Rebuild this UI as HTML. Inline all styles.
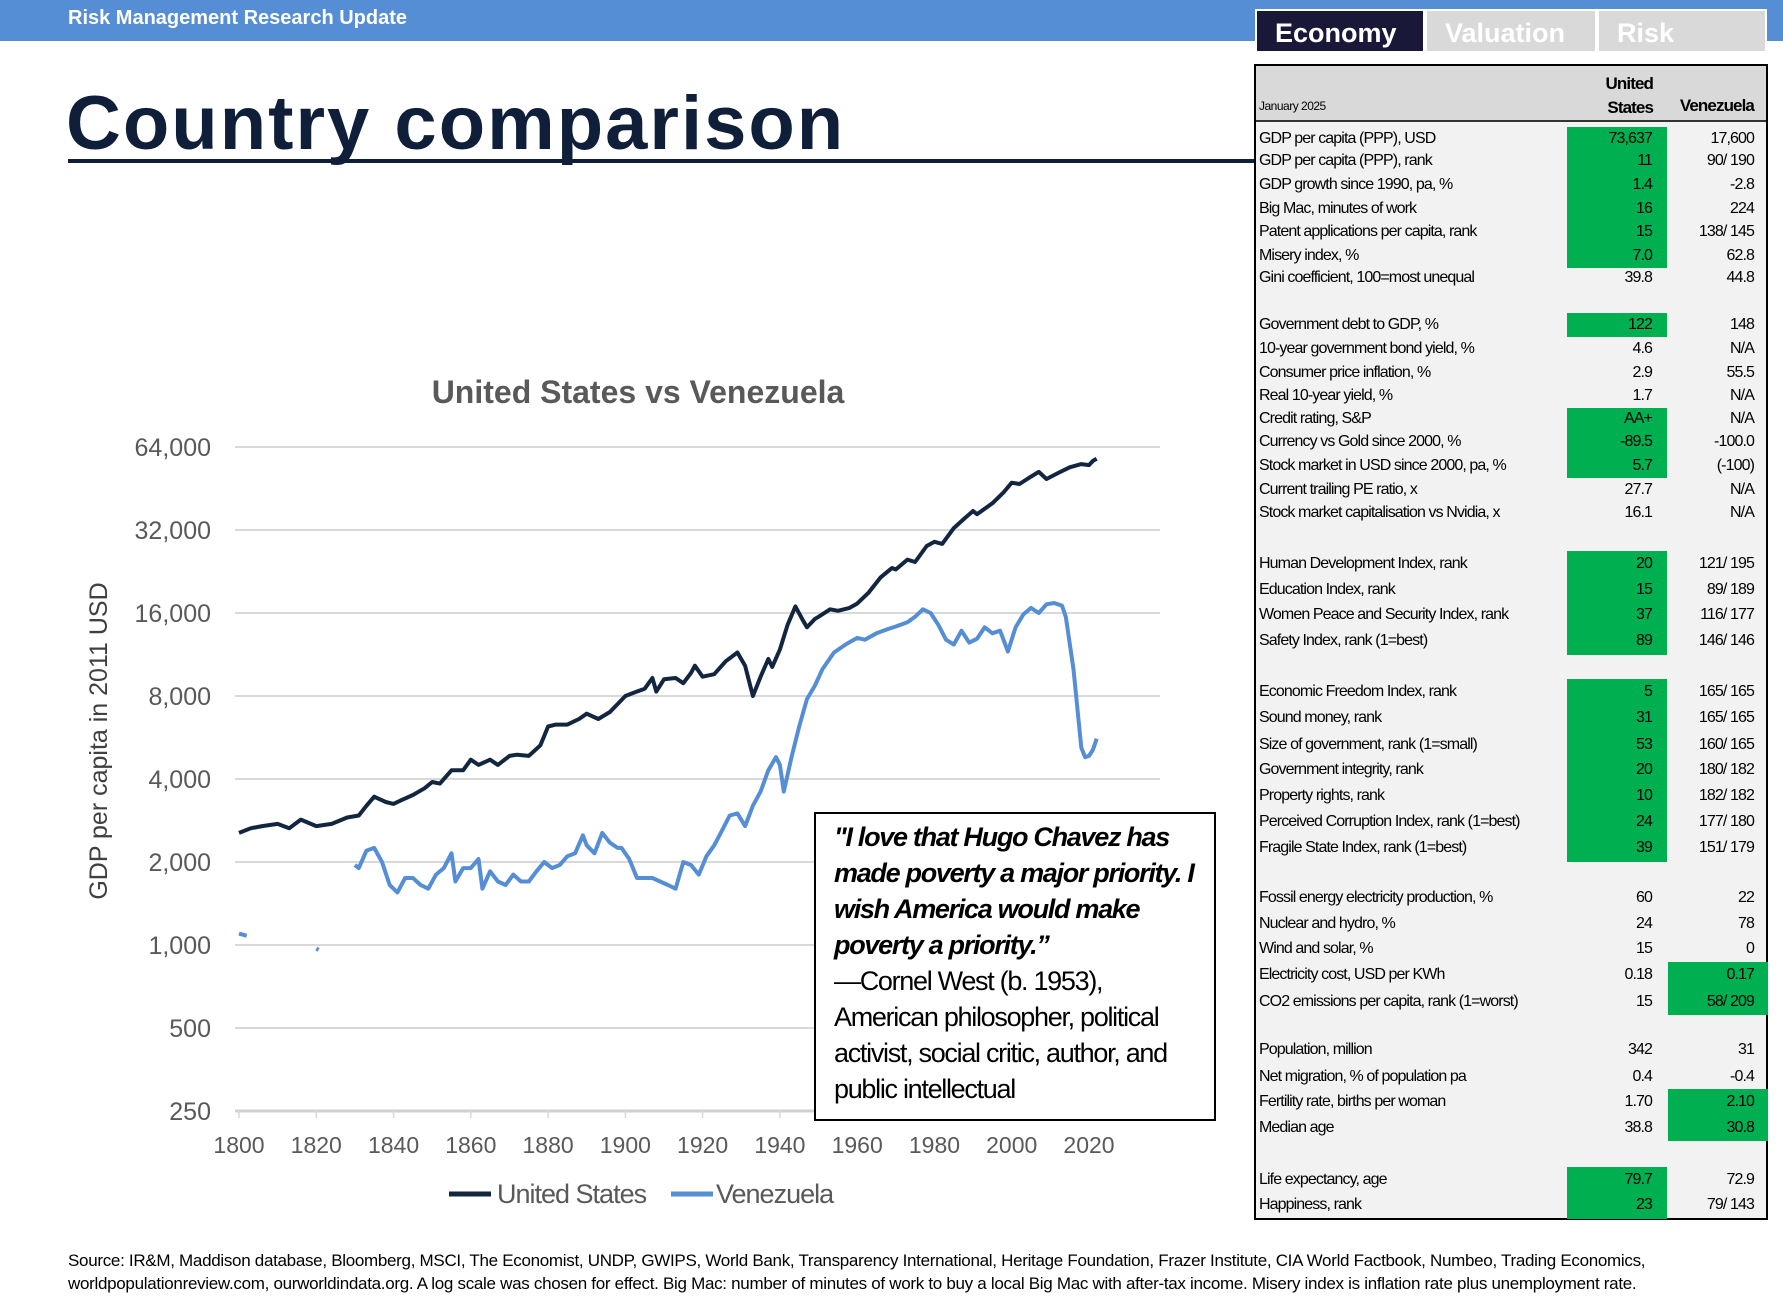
<!DOCTYPE html>
<html><head><meta charset="utf-8">
<style>
body{margin:0;width:1783px;height:1302px;background:#fff;position:relative;overflow:hidden;font-family:"Liberation Sans",sans-serif;}
.abs{position:absolute;}
#hdr{left:0;top:0;width:1783px;height:41px;background:#558ED5;}
#hdrt{left:68px;top:7px;color:#fff;font-weight:bold;font-size:20px;}
.tab{top:9px;height:44px;line-height:44px;font-weight:bold;font-size:27px;color:#fff;padding-left:18px;box-sizing:border-box;border:2px solid #fff;}
#title{left:66px;top:80px;font-size:76px;font-weight:bold;color:#0f1f3a;letter-spacing:2px;}
#uline{left:68px;top:159px;width:1186px;height:4px;background:#0f1f3a;}
#tbl{left:1254px;top:64px;width:514px;height:1156px;background:#f2f2f2;border:2px solid #000;box-sizing:border-box;}
#thead{left:0;top:0;width:510px;height:54px;background:#d9d9d9;border-bottom:2px solid #333;}
.cell{position:absolute;font-size:16px;letter-spacing:-0.9px;color:#000;white-space:nowrap;}
.quote{left:814px;top:812px;width:402px;height:309px;border:2px solid #000;box-sizing:border-box;background:#fff;}
.ql{position:absolute;left:18px;font-size:27px;letter-spacing:-1.3px;color:#000;white-space:nowrap;}
#foot{left:68px;top:1249px;font-size:17px;line-height:23px;color:#000;letter-spacing:-0.3px;}
</style></head><body>
<div class="abs" id="hdr"></div>
<div class="abs" id="hdrt">Risk Management Research Update</div>
<div class="abs tab" style="left:1255px;width:170px;background:#1a1838;">Economy</div>
<div class="abs tab" style="left:1425px;width:172px;background:#d9d9d9;">Valuation</div>
<div class="abs tab" style="left:1597px;width:170px;background:#d9d9d9;">Risk</div>
<div class="abs" id="title">Country comparison</div>
<div class="abs" id="uline"></div>

<div class="abs" id="tbl">
 <div class="abs" id="thead">
  <div class="cell" style="left:3px;top:33px;font-size:12px;letter-spacing:-0.5px;">January 2025</div>
  <div class="cell" style="right:113px;top:6px;font-size:17px;font-weight:bold;text-align:right;line-height:24px;">United<br>States</div>
  <div class="cell" style="right:12px;top:30px;font-size:17px;font-weight:bold;">Venezuela</div>
 </div>
 <div id="rows"></div>
</div>

<svg class="abs" style="left:0;top:0;" width="1783" height="1302" id="chart"></svg>

<div class="abs quote">
 <div class="ql" style="top:8px;font-weight:bold;font-style:italic;">"I love that Hugo Chavez has</div>
 <div class="ql" style="top:44px;font-weight:bold;font-style:italic;">made poverty a major priority. I</div>
 <div class="ql" style="top:80px;font-weight:bold;font-style:italic;">wish America would make</div>
 <div class="ql" style="top:116px;font-weight:bold;font-style:italic;">poverty a priority.”</div>
 <div class="ql" style="top:152px;">—Cornel West (b. 1953),</div>
 <div class="ql" style="top:188px;">American philosopher, political</div>
 <div class="ql" style="top:224px;">activist, social critic, author, and</div>
 <div class="ql" style="top:260px;">public intellectual</div>
</div>

<div class="abs" id="foot">Source: IR&amp;M, Maddison database, Bloomberg, MSCI, The Economist, UNDP, GWIPS, World Bank, Transparency International, Heritage Foundation, Frazer Institute, CIA World Factbook, Numbeo, Trading Economics,<br>worldpopulationreview.com, ourworldindata.org. A log scale was chosen for effect. Big Mac: number of minutes of work to buy a local Big Mac with after-tax income. Misery index is inflation rate plus unemployment rate.</div>

<script>
// ---- table data ----
const rowLabels=["GDP per capita (PPP), USD","GDP per capita (PPP), rank","GDP growth since 1990, pa, %","Big Mac, minutes of work","Patent applications per capita, rank","Misery index, %","Gini coefficient, 100=most unequal",
"Government debt to GDP, %","10-year government bond yield, %","Consumer price inflation, %","Real 10-year yield, %","Credit rating, S&P","Currency vs Gold since  2000, %","Stock market in USD since 2000, pa, %","Current trailing PE ratio, x","Stock market capitalisation vs Nvidia, x",
"Human Development Index, rank","Education Index, rank","Women Peace and Security Index, rank","Safety Index, rank (1=best)",
"Economic Freedom Index, rank","Sound money, rank","Size of government, rank (1=small)","Government integrity, rank","Property rights, rank","Perceived Corruption Index, rank (1=best)","Fragile State Index, rank (1=best)",
"Fossil energy electricity production, %","Nuclear and hydro, %","Wind and solar, %","Electricity cost, USD per KWh","CO2 emissions per capita, rank (1=worst)",
"Population, million","Net migration, %  of population pa","Fertility rate, births per woman","Median age",
"Life expectancy, age","Happiness, rank"];
const usValues=["73,637","11","1.4","16","15","7.0","39.8","122","4.6","2.9","1.7","AA+","-89.5","5.7","27.7","16.1","20","15","37","89","5","31","53","20","10","24","39","60","24","15","0.18","15","342","0.4","1.70","38.8","79.7","23"];
const veValues=["17,600","90/ 190","-2.8","224","138/ 145","62.8","44.8","148","N/A","55.5","N/A","N/A","-100.0","(-100)","N/A","N/A","121/ 195","89/ 189","116/ 177","146/ 146","165/ 165","165/ 165","160/ 165","180/ 182","182/ 182","177/ 180","151/ 179","22","78","0","0.17","58/ 209","31","-0.4","2.10","30.8","72.9","79/ 143"];
const usGreen=[1,1,1,1,1,1,0,1,0,0,0,1,1,1,0,0,1,1,1,1,1,1,1,1,1,1,1,0,0,0,0,0,0,0,0,0,1,1];
const veGreen=[0,0,0,0,0,0,0,0,0,0,0,0,0,0,0,0,0,0,0,0,0,0,0,0,0,0,0,0,0,0,1,1,0,0,1,1,0,0];
const rowCentersDisp=[121,141,162,183,203,224,244,285,306,327,347,368,388,409,430,450,495,518,540,563,608,631,654,676,699,722,745,789,812,834,857,880,923,946,968,991,1037,1059];
const rows=document.getElementById('rows');
for(let i=0;i<rowLabels.length;i++){
  const cy=rowCentersDisp[i]*1.137-64+1;
  const h=(i>=16)?26:23.5;
  if(usGreen[i]){const g=document.createElement('div');g.className='abs';g.style.cssText=`left:311px;top:${cy-h/2-2}px;width:100px;height:${h+0.5}px;background:#00b050;`;
    
    rows.appendChild(g);}
  if(veGreen[i]){const g=document.createElement('div');g.className='abs';g.style.cssText=`left:412px;top:${cy-h/2-2}px;width:100px;height:${h+0.5}px;background:#00b050;`;
    
    rows.appendChild(g);}
  const l=document.createElement('div');l.className='cell';l.style.left='3px';l.style.top=(cy-11)+'px';l.textContent=rowLabels[i];
  
  rows.appendChild(l);
  const u=document.createElement('div');u.className='cell';u.style.right='114px';u.style.top=(cy-11)+'px';u.textContent=usValues[i];
  
  rows.appendChild(u);
  const v=document.createElement('div');v.className='cell';v.style.right='12px';v.style.top=(cy-11)+'px';v.textContent=veValues[i];
  
  rows.appendChild(v);
}

// ---- chart data ----
const yTicks=[64000,32000,16000,8000,4000,2000,1000,500,250];
const yTickLabels=["64,000","32,000","16,000","8,000","4,000","2,000","1,000","500","250"];
const xTicks=[1800,1820,1840,1860,1880,1900,1920,1940,1960,1980,2000,2020];
const usYears=[1800,1803,1806,1810,1813,1816,1820,1824,1828,1831,1833,1835,1838,1840,1842,1845,1848,1850,1852,1855,1858,1860,1862,1865,1867,1870,1872,1875,1878,1880,1882,1885,1888,1890,1893,1896,1900,1902,1905,1907,1908,1910,1913,1915,1917,1918,1920,1923,1926,1929,1931,1933,1935,1937,1938,1940,1942,1944,1946,1947,1949,1950,1953,1955,1958,1960,1963,1966,1969,1970,1973,1975,1978,1980,1982,1985,1988,1990,1991,1995,1998,2000,2002,2005,2007,2009,2012,2015,2018,2020,2021,2022];
const usValuesChart=[2550,2650,2700,2750,2650,2850,2700,2750,2900,2950,3200,3450,3300,3250,3350,3500,3700,3900,3850,4300,4300,4700,4500,4700,4500,4850,4900,4850,5300,6200,6300,6300,6600,6900,6600,7000,8000,8200,8500,9300,8300,9200,9300,8900,9700,10300,9400,9600,10700,11500,10300,8000,9400,10900,10200,11800,14500,16900,15000,14200,15200,15500,16500,16300,16700,17300,19000,21500,23300,23000,25000,24500,28000,29000,28500,32500,35500,37500,36500,40000,44000,47500,47000,50000,52000,49000,51500,54000,55500,55000,57000,58000];
const veYears=[1830,1831,1833,1835,1837,1839,1841,1843,1845,1847,1849,1851,1853,1855,1856,1858,1860,1862,1863,1865,1867,1869,1871,1873,1875,1877,1879,1881,1883,1885,1887,1889,1890,1892,1894,1896,1898,1899,1901,1903,1905,1907,1909,1911,1913,1915,1917,1919,1921,1923,1925,1927,1929,1931,1933,1935,1937,1939,1940,1941,1943,1945,1947,1949,1951,1954,1957,1960,1962,1965,1968,1970,1973,1975,1977,1979,1981,1983,1985,1987,1989,1991,1993,1995,1997,1999,2001,2003,2005,2007,2009,2011,2013,2014,2016,2018,2019,2020,2021,2022];
const veValuesChart=[1950,1900,2200,2250,2000,1650,1550,1750,1750,1650,1600,1800,1900,2150,1700,1900,1900,2050,1600,1850,1700,1650,1800,1700,1700,1850,2000,1900,1950,2100,2150,2500,2300,2150,2550,2350,2250,2250,2050,1750,1750,1750,1700,1650,1600,2000,1950,1800,2100,2300,2600,2950,3000,2700,3200,3600,4300,4800,4500,3600,4800,6200,7800,8700,10000,11500,12300,13000,12800,13500,14000,14300,14800,15500,16500,16000,14500,12800,12300,13800,12500,12900,14200,13500,13800,11600,14200,15800,16700,16000,17200,17400,17000,15500,10000,5200,4800,4850,5100,5600];
const veEarlyYears=[1800,1802];
const veEarlyValues=[1100,1080];
const veDotYears=[1820,1820.6];
const veDotValues=[970,960];

const svg=document.getElementById('chart');
const NS='http://www.w3.org/2000/svg';
const X0=239,X1=1089,Y64=447,DBL=83;
function xs(y){return X0+(y-1800)/220*(X1-X0);}
function ys(v){return Y64+Math.log2(64000/v)*DBL;}
function mk(tag,attrs){const e=document.createElementNS(NS,tag);for(const k in attrs)e.setAttribute(k,attrs[k]);svg.appendChild(e);return e;}
let t=mk('text',{x:638,y:403,'text-anchor':'middle','font-size':32,'font-weight':'bold',fill:'#595959','font-family':'Liberation Sans, sans-serif'});
t.textContent='United States vs Venezuela';


for(let i=0;i<yTicks.length;i++){
  const y=ys(yTicks[i]);
  const g=mk('line',{x1:235,x2:1160,y1:y,y2:y,stroke:i==yTicks.length-1?'#d0d0d0':'#d9d9d9','stroke-width':i==yTicks.length-1?3:2});
  
  
  const l=mk('text',{x:211,y:y+9,'text-anchor':'end','font-size':25,fill:'#595959','font-family':'Liberation Sans, sans-serif'});
  l.textContent=yTickLabels[i];
  
  
}
for(let i=0;i<xTicks.length;i++){
  const x=xs(xTicks[i]);
  const tk=mk('line',{x1:x,x2:x,y1:ys(250),y2:ys(250)+7,stroke:'#d9d9d9','stroke-width':1.5});
  
  
  const l=mk('text',{x:x,y:1153,'text-anchor':'middle','font-size':23,fill:'#595959','font-family':'Liberation Sans, sans-serif'});
  l.textContent=xTicks[i];
  
  
}
t=mk('text',{x:0,y:0,transform:'translate(107,741) rotate(-90)','text-anchor':'middle','font-size':25,fill:'#404040','font-family':'Liberation Sans, sans-serif'});
t.textContent='GDP per capita in 2011 USD';


function pts(xa,va){return xa.map((yy,i)=>xs(yy).toFixed(1)+','+ys(va[i]).toFixed(1)).join(' ');}
let p=mk('polyline',{points:pts(veEarlyYears,veEarlyValues),fill:'none',stroke:'#558ED5','stroke-width':4});


p=mk('polyline',{points:pts(veDotYears,veDotValues),fill:'none',stroke:'#558ED5','stroke-width':4});


p=mk('polyline',{points:pts(veYears,veValuesChart),fill:'none',stroke:'#558ED5','stroke-width':4,'stroke-linejoin':'round'});


p=mk('polyline',{points:pts(usYears,usValuesChart),fill:'none',stroke:'#132640','stroke-width':4,'stroke-linejoin':'round'});


// legend
let lg=mk('line',{x1:449,x2:491,y1:1194,y2:1194,stroke:'#132640','stroke-width':5});


t=mk('text',{x:497,y:1203,'font-size':27,fill:'#595959','font-family':'Liberation Sans, sans-serif','letter-spacing':'-1'});
t.textContent='United States';


lg=mk('line',{x1:671,x2:713,y1:1194,y2:1194,stroke:'#558ED5','stroke-width':5});


t=mk('text',{x:716,y:1203,'font-size':27,fill:'#595959','font-family':'Liberation Sans, sans-serif','letter-spacing':'-1'});
t.textContent='Venezuela';


</script>
</body></html>
